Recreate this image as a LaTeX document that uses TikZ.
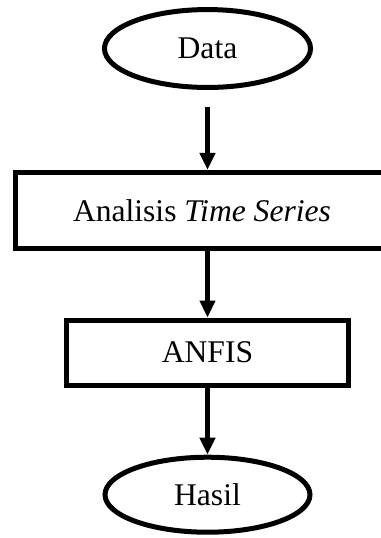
\documentclass[tikz,border=0pt]{standalone}
\usepackage{fontspec}
\setmainfont{Liberation Serif}
\usetikzlibrary{shapes.geometric, arrows.meta}
\tikzstyle{startstop} = [ellipse, minimum width=78.3pt, minimum height=29.6pt, inner sep=0pt, text centered, draw=black, line width=1.9pt]
\tikzstyle{process} = [rectangle, minimum height=28.9pt, text centered, draw=black, line width=1.9pt]
\tikzstyle{arrow} = [line width=1.9pt, -{Triangle[width=5.7pt, length=6.5pt]}]

\begin{document}
\begin{tikzpicture}[node distance=54pt, font=\fontsize{12pt}{14pt}\selectfont] % same gap between the lower steps

\useasboundingbox (-78.85pt,18.43pt) rectangle (65.93pt,-186.01pt);

% Nodes
\node (data) [startstop] {Data};
\node (analisis) [process, below of=data, yshift=-7.56pt, xshift=-2.1pt, minimum width=141.7pt] {Analisis \textit{Time Series}};
\node (anfis) [process, below of=analisis, xshift=2.1pt, minimum width=107.2pt, minimum height=24.7pt] {ANFIS};
\node (hasil) [startstop, below of=anfis, minimum width=77.9pt, minimum height=28.5pt] {Hasil};

% Arrows
\draw [arrow, shorten <=6.6pt] (data) -- (data |- analisis.north);
\draw [arrow] (analisis.south -| anfis) -- (anfis);
\draw [arrow] (anfis) -- (hasil);

\end{tikzpicture}
\end{document}
